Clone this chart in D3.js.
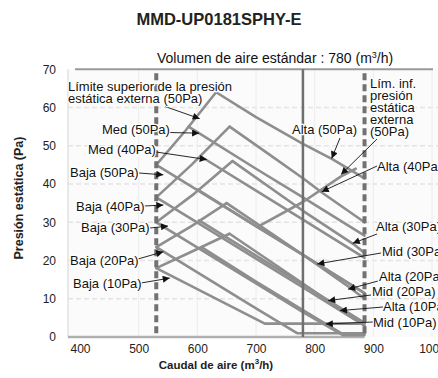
<!DOCTYPE html>
<html><head><meta charset="utf-8">
<script src="https://cdn.jsdelivr.net/npm/d3@7"></script>
<style>body{margin:0;background:#fff}svg{display:block}text{font-family:"Liberation Sans",Arial,Helvetica,sans-serif}</style>
</head><body><svg id="c" width="438" height="378"></svg>
<script>
// ---- data ----
const title = "MMD-UP0181SPHY-E";
const subtitleParts = ["Volumen de aire estándar : 780 (m", "3", "/h)"];
const xTitleParts = ["Caudal de aire (m", "3", "/h)"];
const yTitle = "Presión estática (Pa)";
const xTicks = [400, 500, 600, 700, 800, 900, 1000];
const yTicks = [0, 10, 20, 30, 40, 50, 60, 70];
const standardFlow = 780;
const flowLimits = [530, 885];

const limiteSuperior50 = [[530,45],[580,54],[632,64]];
const limiteSuperior40 = [[530,36.5],[590,45],[655,55]];
const limiteSuperior30 = [[530,30],[595,37.5],[660,46]];
const limiteSuperior20 = [[530,23.5],[590,29],[650,35]];
const limiteSuperior10 = [[530,18],[590,22.3],[655,27]];
const limiteInferior50 = [[705,29],[780,35.3],[845,42],[870,44]];

const alta50 = [[632,64],[700,57.5],[780,50.5],[830,46.5],[885,41.5]];
const alta40 = [[655,55],[720,48],[780,41.5],[814,37.6],[885,30]];
const alta30 = [[660,46],[780,33],[866,24.3],[885,22]];
const alta20 = [[650,35],[780,21.5],[859,13],[885,10]];
const alta10 = [[655,27],[780,14],[846,7],[885,3]];

const med50 = [[585,55],[700,44],[780,36.5],[885,26.5]];
const med40 = [[606,47.2],[700,38.3],[780,30.7],[885,20.7]];
const mid30 = [[600,38.6],[700,29],[780,21.5],[885,11.5]];
const mid20 = [[603,30.5],[700,21.3],[780,13.7],[885,3.7]];
const mid10 = [[607,23.5],[700,14.5],[780,7],[845,1],[885,1]];

const baja50 = [[530,45],[700,29],[780,21.5],[885,11.5]];
const baja40 = [[530,36.5],[700,20.5],[780,13],[885,3]];
const baja30 = [[530,30],[700,14],[780,6.5],[848,0.5],[885,0.5]];
const baja20 = [[530,23.5],[700,7.5],[770,1],[885,1]];
const baja10 = [[530,18],[715,3.5],[885,3.5]];

const curves = [limiteSuperior50, limiteSuperior40, limiteSuperior30, limiteSuperior20, limiteSuperior10,
  limiteInferior50, alta50, alta40, alta30, alta20, alta10, med50, med40, mid30, mid20, mid10,
  baja50, baja40, baja30, baja20, baja10];

// annotation texts and the point (flow, Pa) each arrow points at
const labelTexts = [
  ["Límite superior de la presión", "estática externa (50Pa)"],
  ["Med (50Pa)"], ["Med (40Pa)"], ["Baja (50Pa)"], ["Baja (40Pa)"], ["Baja (30Pa)"],
  ["Baja (20Pa)"], ["Baja (10Pa)"], ["Alta (50Pa)"],
  ["Lím. inf.", "presión", "estática", "externa", "(50Pa)"],
  ["Alta (40Pa)"], ["Alta (30Pa)"], ["Mid (30Pa)"], ["Alta (20Pa)"], ["Mid (20Pa)"],
  ["Alta (10Pa)"], ["Mid (10Pa)"]
];
const arrowTargets = [
  [604,57.1],[603,53.3],[616,46.4],[542,42.4],[542,34.5],[550,29.0],[542,22.3],[553,15.4],
  [829,46.7],[845,42.5],[812,38.0],[865,24.5],[804.5,19.1],[857,12.5],[823,9.5],[843,6.9],[819,3.4]
];

// ---- layout (pixels) ----
const W = 438, H = 378;
const labelLayout = [
  {x:68, y:91, ax:165, ay:106.5},
  {x:102, y:134, ax:169, ay:132.5},
  {x:88, y:153.5, ax:156, ay:152},
  {x:70, y:177, ax:139, ay:173},
  {x:76, y:211, ax:144, ay:206},
  {x:81, y:232, ax:150, ay:228},
  {x:70, y:265, ax:138, ay:259},
  {x:73, y:288, ax:141, ay:283},
  {x:292, y:134, ax:340, ay:138},
  {x:370, y:88, ax:377, ay:139},
  {x:377, y:171, ax:377, ay:166},
  {x:376, y:231, ax:377, ay:234},
  {x:382, y:256, ax:381, ay:253},
  {x:379, y:281, ax:378, ay:281},
  {x:372, y:296, ax:371, ay:295},
  {x:383, y:311, ax:383, ay:307},
  {x:373, y:327, ax:373, ay:322}
];

const svg = d3.select("#c");
const x = d3.scaleLinear().domain([400, 1000]).range([80, 432]);
const y = d3.scaleLinear().domain([0, 70]).range([337, 69.3]);

svg.append("rect").attr("width", W).attr("height", H).attr("fill", "#fff");
svg.append("rect").attr("x", 68).attr("y", y(70)).attr("width", W - 68).attr("height", y(0) - y(70)).attr("fill", "#fbfbfb");

// grid
svg.append("g").selectAll("line").data(yTicks.slice(1, -1)).join("line")
  .attr("x1", 68).attr("x2", W).attr("y1", d => y(d)).attr("y2", d => y(d))
  .attr("stroke", "#e4e4e4").attr("stroke-width", 1.5).attr("stroke-dasharray", "5,3");
svg.append("g").selectAll("line").data(xTicks.slice(1)).join("line")
  .attr("x1", d => x(d)).attr("x2", d => x(d)).attr("y1", y(70)).attr("y2", y(0))
  .attr("stroke", "#ececec").attr("stroke-width", 1);
svg.append("line").attr("x1", 68).attr("x2", 68).attr("y1", y(70)).attr("y2", y(0)).attr("stroke", "#e2e2e2").attr("stroke-width", 1.5);

// frame lines
svg.append("line").attr("x1", 75).attr("x2", 433).attr("y1", y(70)).attr("y2", y(70)).attr("stroke", "#9a9a9a").attr("stroke-width", 2);
svg.append("line").attr("x1", 68).attr("x2", x(flowLimits[1])).attr("y1", y(0)).attr("y2", y(0)).attr("stroke", "#b0b0b0").attr("stroke-width", 2.5);

// axes (text only)
const yAxis = d3.axisLeft(y).tickValues(yTicks).tickFormat(d3.format("d")).tickSize(0).tickPadding(0);
svg.append("g").attr("transform", "translate(56,0)").call(yAxis)
  .call(g => g.select(".domain").remove())
  .selectAll("text").attr("font-size", 12).attr("fill", "#222").attr("font-family", "Liberation Sans, Arial, sans-serif");
const xAxis = d3.axisBottom(x).tickValues(xTicks).tickFormat(d3.format("d")).tickSize(0).tickPadding(0);
svg.append("g").attr("transform", "translate(0,344)").call(xAxis)
  .call(g => g.select(".domain").remove())
  .selectAll("text").attr("font-size", 12).attr("fill", "#222").attr("font-family", "Liberation Sans, Arial, sans-serif");

// curves
const line = d3.line().x(d => x(d[0])).y(d => y(d[1]));
svg.append("g").selectAll("path").data(curves).join("path")
  .attr("d", line).attr("fill", "none").attr("stroke", "#8e8e8e").attr("stroke-width", 2.6)
  .attr("stroke-linejoin", "round").attr("stroke-linecap", "round");

// limit lines
svg.append("line").attr("x1", x(standardFlow)).attr("x2", x(standardFlow)).attr("y1", y(70)).attr("y2", y(0))
  .attr("stroke", "#6f6f6f").attr("stroke-width", 2.5);
svg.append("g").selectAll("line").data(flowLimits).join("line")
  .attr("x1", d => x(d)).attr("x2", d => x(d)).attr("y1", y(70) + 4).attr("y2", y(0))
  .attr("stroke", "#727272").attr("stroke-width", 4).attr("stroke-dasharray", "7,4");

// titles
function supText(sel, parts, supSize) {
  sel.append("tspan").text(parts[0]);
  sel.append("tspan").attr("dy", -5).attr("font-size", supSize).text(parts[1]);
  sel.append("tspan").attr("dy", 5).text(parts[2]);
}
svg.append("text").attr("x", 219).attr("y", 25).attr("text-anchor", "middle").attr("font-size", 16.5)
  .attr("font-weight", "bold").attr("fill", "#222").text(title);
const st = svg.append("text").attr("x", 157).attr("y", 63).attr("font-size", 14).attr("fill", "#111");
supText(st, subtitleParts, 9);
const xt = svg.append("text").attr("x", 216).attr("y", 369).attr("text-anchor", "middle").attr("font-size", 11.5)
  .attr("font-weight", "bold").attr("fill", "#222");
supText(xt, xTitleParts, 8);
svg.append("text").attr("transform", "translate(23,198) rotate(-90)").attr("text-anchor", "middle")
  .attr("font-size", 12.5).attr("font-weight", "bold").attr("fill", "#222").text(yTitle);

// annotations
const defs = svg.append("defs");
defs.append("marker").attr("id", "ah").attr("viewBox", "0 0 10 10").attr("refX", 10).attr("refY", 5)
  .attr("markerWidth", 8).attr("markerHeight", 7).attr("markerUnits", "userSpaceOnUse").attr("orient", "auto")
  .append("path").attr("d", "M0,0L10,5L0,10z").attr("fill", "#111");
const ann = svg.append("g");
labelTexts.forEach((lines, i) => {
  const L = labelLayout[i];
  const t = arrowTargets[i];
  ann.append("line").attr("x1", L.ax).attr("y1", L.ay).attr("x2", x(t[0])).attr("y2", y(t[1]))
    .attr("stroke", "#111").attr("stroke-width", 0.9).attr("marker-end", "url(#ah)");
  lines.forEach((s, j) => {
    ann.append("text").attr("x", L.x).attr("y", L.y + j * 12)
      .attr("font-size", 13).attr("fill", "#111")
      .attr("stroke", "#fff").attr("stroke-width", 2.5).attr("paint-order", "stroke").attr("stroke-linejoin", "round")
      .text(s);
  });
});
</script></body></html>
